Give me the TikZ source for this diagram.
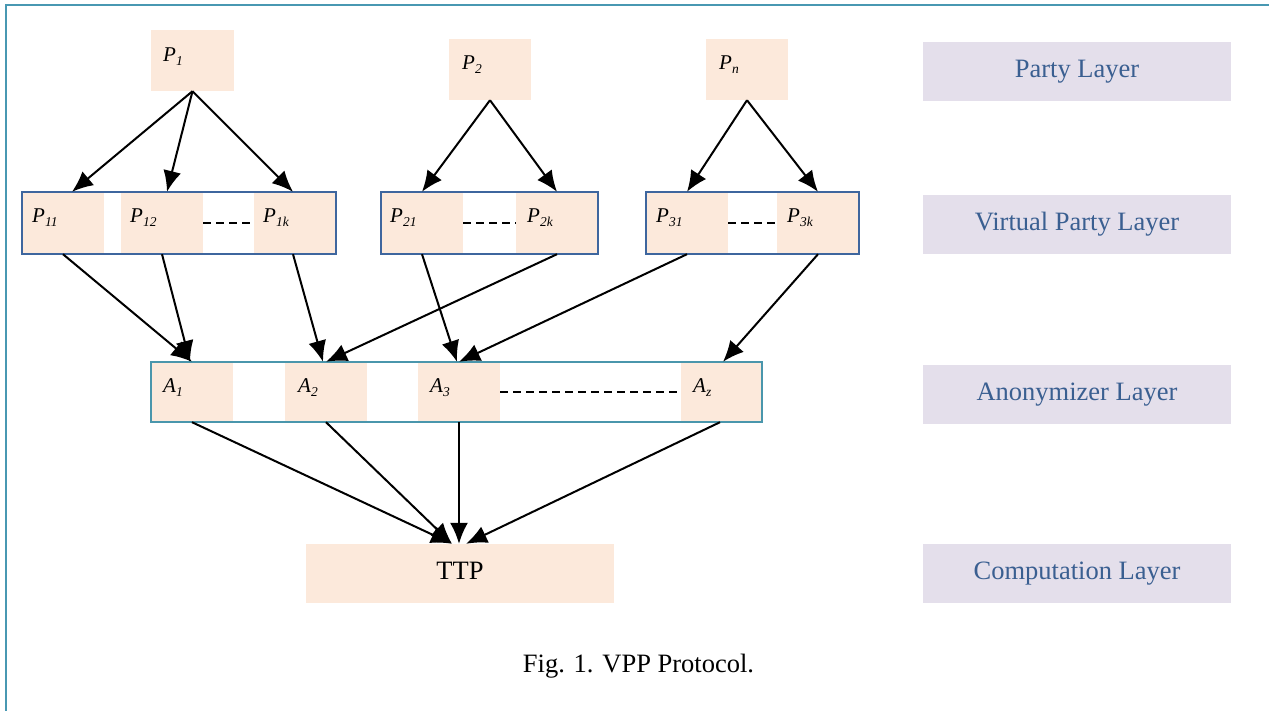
\documentclass[tikz,border=0pt]{standalone}
\usepackage{fontspec}
\setmainfont{Liberation Serif}
\usetikzlibrary{arrows.meta,fit}
\definecolor{peach}{RGB}{252,233,219}
\definecolor{lav}{RGB}{228,223,235}
\definecolor{laytext}{RGB}{58,95,145}
\definecolor{grpblue}{RGB}{62,102,158}
\definecolor{anonteal}{RGB}{74,150,172}
\definecolor{frameteal}{RGB}{72,152,178}
\newcommand{\plab}[2]{{\fontsize{21}{21}\selectfont\itshape #1\raisebox{-4pt}{\fontsize{13.5}{13.5}\selectfont #2}}}
\begin{document}
\begin{tikzpicture}[x=1pt,y=-1pt,
  pbox/.style={fill=peach, inner sep=0, minimum width=82, minimum height=61},
  vbox/.style={fill=peach, inner sep=0, minimum width=82, minimum height=62},
  abox/.style={fill=peach, inner sep=0, minimum width=82, minimum height=60},
  grp/.style={draw=grpblue, line width=2.2pt, inner sep=0},
  agrp/.style={draw=anonteal, line width=2.2pt, inner sep=0},
  lab/.style={anchor=base west, inner sep=0},
  layer/.style={fill=lav, inner sep=0, minimum width=308, minimum height=59, text=laytext,
    font=\fontsize{26.5}{26.5}\selectfont, text height=17.5pt, text depth=5.8pt},
  ttpbox/.style={fill=peach, inner sep=0, minimum width=308, minimum height=59,
    font=\fontsize{26.5}{26.5}\selectfont, text height=17.5pt, text depth=5.8pt},
  arr/.style={-{Latex[length=21pt,width=18pt]}, line width=2pt},
  dsh/.style={dash pattern=on 8pt off 5pt, line width=2.2pt}]
\useasboundingbox (0,0) rectangle (1269,711);
% frame
\draw[frameteal, line width=2.5pt] (6,720) -- (6,5) -- (1280,5);

% party layer
\node[pbox, minimum width=83] (P1) at (192.5,60.5) {};
\node[pbox] (P2) at (490,69.5) {};
\node[pbox] (Pn) at (747,69.5) {};
\node[lab] (lP1) at (163,62) {\plab{P}{1}};
\node[lab] (lP2) at (462,70) {\plab{P}{2}};
\node[lab] (lPn) at (719,70) {\plab{P}{n}};

% virtual party layer
\node[vbox] (P11) at (63,223) {};
\node[vbox] (P12) at (162,223) {};
\node[vbox] (P1k) at (295,223) {};
\node[vbox] (P21) at (422,223) {};
\node[vbox] (P2k) at (557,223) {};
\node[vbox] (P31) at (687,223) {};
\node[vbox] (P3k) at (818,223) {};
\node[grp, fit=(P11)(P1k)] (G1) {};
\node[grp, fit=(P21)(P2k)] (G2) {};
\node[grp, fit=(P31)(P3k)] (G3) {};
\draw[dsh] (P12.east) -- (P1k.west);
\draw[dsh] (P21.east) -- (P2k.west);
\draw[dsh] (P31.east) -- (P3k.west);
\node[lab] (lP11) at (32,223) {\plab{P}{11}};
\node[lab] (lP12) at (130,223) {\plab{P}{12}};
\node[lab] (lP1k) at (263,223) {\plab{P}{1k}};
\node[lab] (lP21) at (390,223) {\plab{P}{21}};
\node[lab] (lP2k) at (527,223) {\plab{P}{2k}};
\node[lab] (lP31) at (656,223) {\plab{P}{31}};
\node[lab] (lP3k) at (787,223) {\plab{P}{3k}};

% anonymizer layer
\node[abox] (A1) at (192,392) {};
\node[abox] (A2) at (326,392) {};
\node[abox] (A3) at (459,392) {};
\node[abox, minimum width=81] (Az) at (721.5,392) {};
\node[agrp, fit=(A1)(Az)] (GA) {};
\draw[dsh] (A3.east) -- (Az.west);
\node[lab] (lA1) at (163,392) {\plab{A}{1}};
\node[lab] (lA2) at (298,392) {\plab{A}{2}};
\node[lab] (lA3) at (430,392) {\plab{A}{3}};
\node[lab] (lAz) at (693,392) {\plab{A}{z}};

% computation
\node[ttpbox] (TTP) at (460,573.5) {TTP};

% layer labels
\node[layer] (L1) at (1077,71.5) {Party Layer};
\node[layer] (L2) at (1077,224.5) {Virtual Party Layer};
\node[layer] (L3) at (1077,394.5) {Anonymizer Layer};
\node[layer] (L4) at (1077,573.5) {Computation Layer};

% caption
\node[anchor=base, inner sep=0, font=\fontsize{26.5}{26.5}\selectfont] (cap) at (638.5,672) {Fig. 1. VPP Protocol.};

% arrows party -> virtual
\draw[arr] (P1.south) -- ([xshift=9pt]P11.north);
\draw[arr] (P1.south) -- ([xshift=5pt]P12.north);
\draw[arr] (P1.south) -- ([xshift=-2pt]P1k.north);
\draw[arr] (P2.south) -- (P21.north);
\draw[arr] (P2.south) -- (P2k.north);
\draw[arr] (Pn.south) -- (P31.north);
\draw[arr] (Pn.south) -- (P3k.north);

% virtual -> anonymizer
\draw[arr] (P11.south) -- (A1.north);
\draw[arr] (P12.south) -- ([xshift=-2pt]A1.north);
\draw[arr] ([xshift=-2pt]P1k.south) -- ([xshift=-3pt]A2.north);
\draw[arr] (P2k.south) -- (A2.north);
\draw[arr] (P21.south) -- ([xshift=-2pt]A3.north);
\draw[arr] (P31.south) -- (A3.north);
\draw[arr] (P3k.south) -- ([xshift=1.5pt]Az.north);

% anonymizer -> TTP
\draw[arr] (A1.south) -- ([xshift=-8pt]TTP.north);
\draw[arr] (A2.south) -- ([xshift=-8pt]TTP.north);
\draw[arr] (A3.south) -- ([xshift=-1pt]TTP.north);
\draw[arr] ([xshift=-1.5pt]Az.south) -- ([xshift=6pt]TTP.north);
\end{tikzpicture}
\end{document}
